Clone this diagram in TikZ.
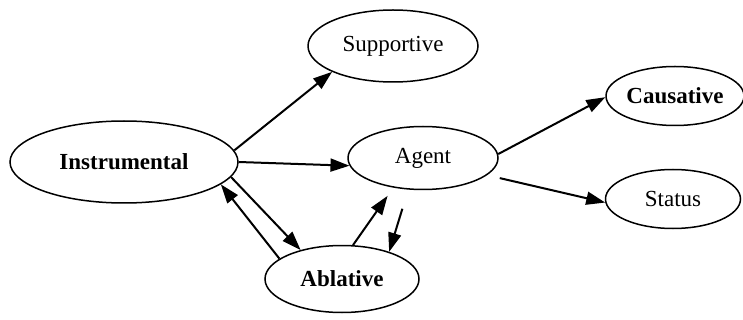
\documentclass[tikz,border=0pt]{standalone}
\usepackage{fontspec}
\setmainfont{Liberation Serif}
\usetikzlibrary{arrows.meta,positioning,shapes.geometric}

\begin{document}
\begin{tikzpicture}[
    x=1pt, y=-1pt,
    every node/.style={draw, ellipse, line width=1.5pt, inner sep=0pt, font=\fontsize{23}{26}\selectfont},
    role/.style={},
    keyrole/.style={font=\fontsize{23}{26}\selectfont\bfseries},
    link/.style={-{Triangle[length=19pt,width=13pt]}, line width=2pt}
]
\useasboundingbox (0,0) rectangle (743,320);

\node[keyrole, minimum width=228pt, minimum height=82pt] (instrumental) at (124,162) {Instrumental};
\node[role, minimum width=170pt, minimum height=72pt] (supportive) at (393,46) {Supportive};
\node[role, minimum width=150pt, minimum height=63pt] (agent) at (423,158) {Agent};
\node[keyrole, minimum width=138pt, minimum height=59pt] (causative) at (675,96) {Causative};
\node[role, minimum width=135pt, minimum height=59pt] (status) at (673,199) {Status};
\node[keyrole, minimum width=154pt, minimum height=67pt] (ablative) at (342,279) {Ablative};

% Connections
\draw[link] (instrumental.6) -- (supportive.203);
\draw[link] (instrumental.0) -- (agent.186);
\draw[link] (instrumental.-8) -- (ablative.145);
\draw[link] (ablative.162) -- (instrumental.-13);
\draw[link, shorten >=10pt] (ablative.72) -- (agent.-135);
\draw[link, shorten <=20pt] (agent.-115) -- (ablative.30);
\draw[link] (agent.3) -- (causative.181);
\draw[link, shorten <=13pt] (agent.-15) -- (status.183);

\end{tikzpicture}
\end{document}
